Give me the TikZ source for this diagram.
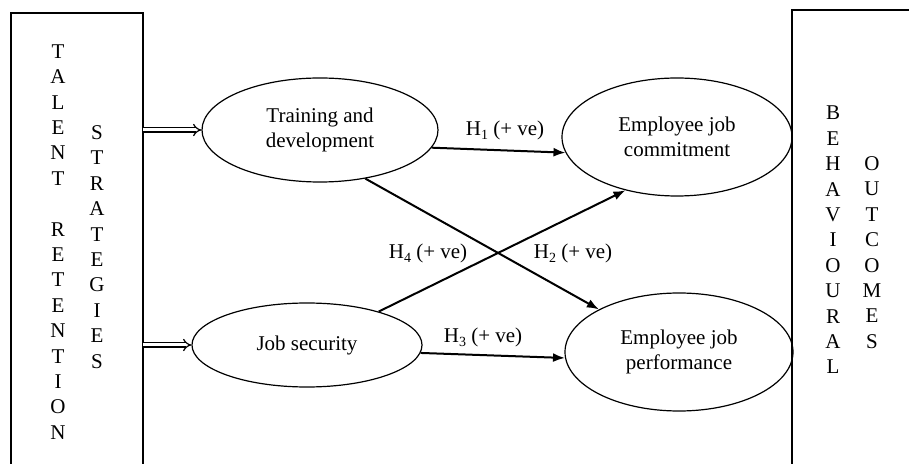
\documentclass[tikz,border=0pt]{standalone}
\usepackage{fontspec}
\setmainfont{Liberation Serif}
\usetikzlibrary{arrows.meta,shapes.geometric}

\newcommand{\hsub}[1]{\raisebox{-0.45ex}{\fontsize{7}{8}\selectfont #1}}

\begin{document}
\begin{tikzpicture}[x=0.5pt,y=-0.5pt,font=\fontsize{10.5}{12.7}\selectfont]
\useasboundingbox (0,0) rectangle (909,464);

\begin{scope}[every node/.style={inner sep=0pt,outer sep=0pt}]
    \node[minimum width=66pt,minimum height=225.5pt] (trs) at (77,238.5) {};
    \node[minimum width=58.5pt,minimum height=227pt] (bo) at (850.5,237) {};
\end{scope}
\draw[line width=0.6pt] (trs.south west) -- (trs.north west) -- (trs.north east) -- (trs.south east);
\draw[line width=0.6pt] (bo.south west) -- (bo.north west) -- (bo.north east);

\begin{scope}[every node/.style={align=center,inner sep=0pt}]
    \node (tal) at (58,242) {T\\A\\L\\E\\N\\T\\[12.7pt]R\\E\\T\\E\\N\\T\\I\\O\\N};
    \node (str) at (97,247) {S\\T\\R\\A\\T\\E\\G\\I\\E\\S};
    \node (beh) at (833,240) {B\\E\\H\\A\\V\\I\\O\\U\\R\\A\\L};
    \node (out) at (872,252.5) {O\\U\\T\\C\\O\\M\\E\\S};
\end{scope}

\begin{scope}[every node/.style={ellipse,draw,line width=0.6pt,inner sep=0pt,align=center}]
    \node[minimum width=118pt,minimum height=52pt] (td) at (320,130) {Training and\\development};
    \node[minimum width=115pt,minimum height=42pt] (js) at (307,345) {Job security};
    \node[minimum width=115pt,minimum height=59pt] (ec) at (677,137) {Employee job\\commitment};
    \node[minimum width=114pt,minimum height=59pt] (ep) at (679,352) {Employee job\\performance};
\end{scope}

\begin{scope}[every edge/.style={draw=black,double,double distance=1.5pt,line width=0.6pt,-{Implies}}]
    \path (trs.east |- td.west) edge (td.west);
    \path (trs.east |- js.west) edge (js.west);
\end{scope}

\begin{scope}[every edge/.style={draw=black,line width=1pt,-{Latex[length=6pt,width=4.5pt]}}]
    \path (td.-9) edge (ec.188);
    \path (td.-47) edge (ep.152);
    \path (js.-4) edge (ep.183);
    \path (js.25) edge (ec.226);
\end{scope}

\node (h1) at (505,130) {H\hsub{1} (+ ve)};
\node (h2) at (573,253) {H\hsub{2} (+ ve)};
\node (h3) at (483,337) {H\hsub{3} (+ ve)};
\node (h4) at (428,253) {H\hsub{4} (+ ve)};
\end{tikzpicture}
\end{document}
